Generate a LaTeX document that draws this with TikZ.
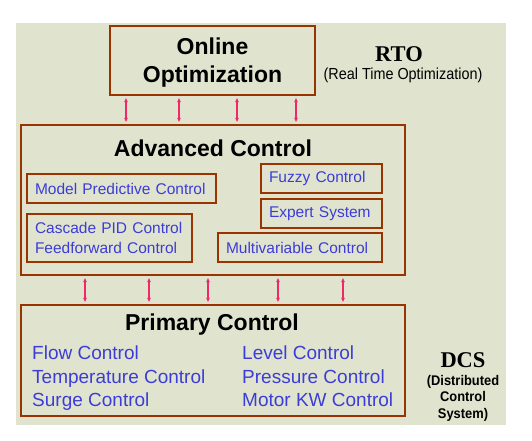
\documentclass[tikz,border=0pt]{standalone}
\usepackage{fontspec}
\setmainfont{Liberation Sans}
\newfontfamily\timesfont{Liberation Serif}
\usetikzlibrary{arrows.meta}
\definecolor{bgcol}{HTML}{E0E4CE}
\definecolor{boxbrown}{HTML}{993300}
\definecolor{itemblue}{HTML}{3C3CD8}
\definecolor{linkpink}{HTML}{F0286A}

\begin{document}
\begin{tikzpicture}[x=1pt,y=-1pt,
	bigbox/.style={draw=boxbrown,line width=2.6pt,inner sep=0pt},
	subbox/.style={draw=boxbrown,line width=2.2pt,text=itemblue,align=left,inner xsep=8pt,inner ysep=0pt,font=\fontsize{15.5}{20}\selectfont},
	title/.style={font=\fontsize{23}{28}\selectfont\bfseries},
	item/.style={anchor=base west,inner sep=0pt,text=itemblue,font=\fontsize{19}{23}\selectfont},
	side/.style={font=\timesfont\bfseries\fontsize{22.5}{26}\selectfont},
	link/.style={draw=linkpink,line width=1.3pt,shorten <=1.3pt,shorten >=1.3pt,{Latex[length=4.5pt,width=4pt]}-{Latex[length=4.5pt,width=4pt]}}]
	\useasboundingbox (0,0) rectangle (532,441);
	\fill[bgcol] (16,23) rectangle (506,425);

	\node[bigbox,title,align=center,text depth=0pt,minimum width=205pt,minimum height=69pt] (opt) at (212.5,60.5) {Online\\Optimization};
	\node[side] (rto) at (399,54) {RTO};
	\node[font=\fontsize{16}{18}\selectfont,xscale=0.9] (rtotext) at (403,75) {(Real Time Optimization)};

	\node[bigbox,minimum width=384pt,minimum height=150pt] (adv) at (213,200) {};
	\node[title] (advtitle) at (213,148) {Advanced Control};
	\node[subbox,text width=173pt,minimum height=29pt] (mpc) at (121.5,188.5) {Model Predictive Control};
	\node[subbox,text width=149pt,minimum height=48pt] (pid) at (109.5,238) {Cascade PID Control\\Feedforward Control};
	\node[subbox,text width=105pt,minimum height=29pt] (fuzzy) at (321.5,178.5) {Fuzzy Control};
	\node[subbox,text width=105pt,minimum height=29pt] (expert) at (321.5,213.5) {Expert System};
	\node[subbox,text width=148pt,minimum height=29pt] (multi) at (300,247.5) {Multivariable Control};

	\node[bigbox,minimum width=384pt,minimum height=111pt] (prim) at (213,360.5) {};
	\node[title] (primtitle) at (212,325) {Primary Control};
	\node[item] (flow) at (32,359) {Flow Control};
	\node[item] (temp) at (32,383) {Temperature Control};
	\node[item] (surge) at (32,406) {Surge Control};
	\node[item] (level) at (242,359) {Level Control};
	\node[item] (press) at (242,383) {Pressure Control};
	\node[item] (motor) at (242,406) {Motor KW Control};

	\node[side] (dcs) at (463,360) {DCS};
	\node[align=center,font=\fontsize{14}{16.5}\selectfont\bfseries,xscale=0.92] (dcstext) at (463,398) {(Distributed\\Control\\System)};

	\foreach \x in {126,179,237,296}
		\draw[link] (\x,0 |- opt.south) -- (\x,0 |- adv.north);
	\foreach \x in {85,149,208,278,343}
		\draw[link] (\x,0 |- adv.south) -- (\x,0 |- prim.north);
\end{tikzpicture}
\end{document}
